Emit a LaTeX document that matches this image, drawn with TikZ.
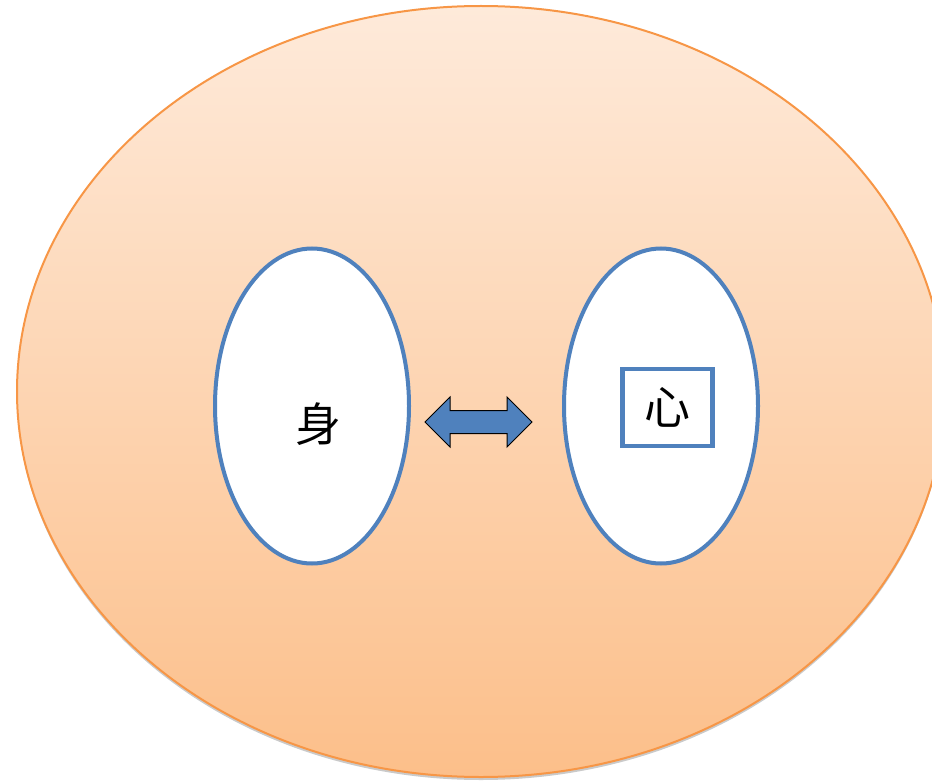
\documentclass[tikz,border=0pt]{standalone}
\usepackage{fontspec}
\newfontfamily\cjk{Noto Sans CJK SC}
\usetikzlibrary{shapes.geometric,shapes.arrows,shadows}
\definecolor{rimorange}{HTML}{F79646}
\definecolor{peachtop}{HTML}{FEEADA}
\definecolor{peachbot}{HTML}{FCBF8A}
\definecolor{rimblue}{HTML}{4F81BD}
\begin{document}
\begin{tikzpicture}[
    x=1pt, y=-1pt,
    whole/.style={ellipse, draw=rimorange, line width=2pt, top color=peachtop, bottom color=peachbot,
      minimum width=928pt, minimum height=771pt,
      drop shadow={shadow xshift=0pt, shadow yshift=-3pt, opacity=0.35, fill=black!60}},
    half/.style={ellipse, draw=rimblue, line width=4pt, fill=white, minimum width=194pt, minimum height=315pt},
    glyph/.style={inner sep=0pt, font=\fontsize{46}{46}\cjk},
    core/.style={rectangle, draw=rimblue, line width=4.5pt, fill=white, minimum width=90pt, minimum height=77pt,
      inner sep=0pt, font=\fontsize{46}{46}\cjk},
    link/.style={double arrow, draw=black, fill=rimblue, line width=1pt, inner xsep=0pt, inner ysep=11pt,
      minimum height=107pt, double arrow head extend=13.5pt}
    ]
  \useasboundingbox (0,0) rectangle (932,781);
	\node [whole] (self) at (481,391.5) {};
	\node [half] (body) at (312,406) {};
	\node [glyph] (bodyname) at (318,424) {身};
	\node [half] (mind) at (661,406) {};
	\node [core] (heart) at (667.5,407.5) {心};
	\node [link] (bond) at (478.5,422) {};
\end{tikzpicture}
\end{document}
